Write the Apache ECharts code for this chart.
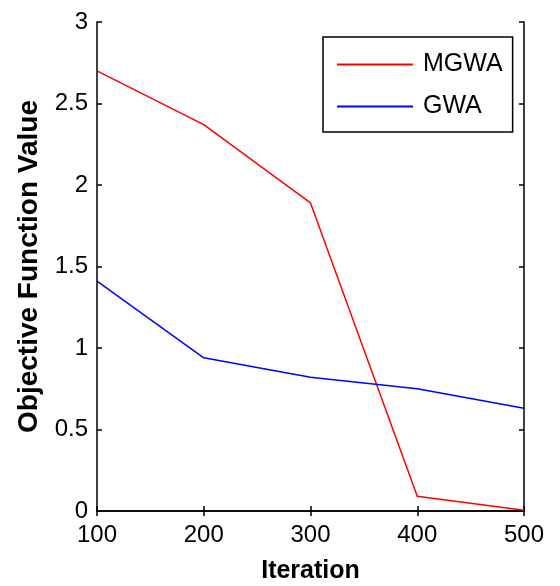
<!DOCTYPE html>
<html><head><meta charset="utf-8">
<script src="https://cdn.jsdelivr.net/npm/echarts@6/dist/echarts.min.js"></script>
<style>html,body{margin:0;padding:0;background:#fff}#c{width:560px;height:586px}</style>
</head><body><div id="c"></div>
<script>
const iterations = [100, 200, 300, 400, 500];
const mgwa = [2.70, 2.37, 1.89, 0.09, 0.005];
const gwa = [1.41, 0.94, 0.82, 0.75, 0.63];
const yTicks = [0, 0.5, 1, 1.5, 2, 2.5, 3];

const FONT = '"Liberation Sans", Arial, sans-serif';
const chart = echarts.init(document.getElementById('c'));
const axisLine = {show: true, lineStyle: {color: '#000', width: 1.5}};
const tick = {show: true, inside: true, length: 5, lineStyle: {color: '#000', width: 1.5}};
chart.setOption({
  animation: false,
  grid: {left: 97, top: 22, width: 427, height: 489, containLabel: false, outerBoundsMode: 'none'},
  legend: {
    orient: 'vertical', left: 323, top: 37,
    borderColor: '#000', borderWidth: 1.5,
    padding: [15, 10, 13, 14],
    itemWidth: 76, itemHeight: 2, itemGap: 17,
    icon: 'rect',
    textStyle: {fontFamily: FONT, fontSize: 25, color: '#000', padding: [0, 0, 0, 5], lineHeight: 25},
    data: ['MGWA', 'GWA']
  },
  xAxis: [{
    type: 'value', min: 100, max: 500, interval: 100,
    name: 'Iteration', nameLocation: 'middle', nameGap: 48,
    nameTextStyle: {fontFamily: FONT, fontWeight: 'bold', fontSize: 25, color: '#000'},
    axisLine: axisLine, axisTick: tick, splitLine: {show: false},
    axisLabel: {fontFamily: FONT, fontSize: 24, color: '#000', margin: 12}
  }, {
    type: 'value', min: 100, max: 500, interval: 100, position: 'top',
    axisLine: axisLine, axisTick: tick, splitLine: {show: false}, axisLabel: {show: false}
  }],
  yAxis: [{
    type: 'value', min: 0, max: 3, interval: 0.5,
    name: 'Objective Function Value', nameLocation: 'middle', nameGap: 53,
    nameTextStyle: {fontFamily: FONT, fontWeight: 'bold', fontSize: 28, color: '#000'},
    axisLine: axisLine, axisTick: tick, splitLine: {show: false},
    axisLabel: {fontFamily: FONT, fontSize: 24, color: '#000', margin: 9,
      formatter: v => yTicks.includes(v) ? String(v) : ''}
  }, {
    type: 'value', min: 0, max: 3, interval: 0.5, position: 'right',
    axisLine: axisLine, axisTick: tick, splitLine: {show: false}, axisLabel: {show: false}
  }],
  series: [
    {name: 'MGWA', type: 'line', symbol: 'none', data: iterations.map((x, i) => [x, mgwa[i]]),
     lineStyle: {color: '#ff0000', width: 1.5}, itemStyle: {color: '#ff0000'}},
    {name: 'GWA', type: 'line', symbol: 'none', data: iterations.map((x, i) => [x, gwa[i]]),
     lineStyle: {color: '#0000ff', width: 1.5}, itemStyle: {color: '#0000ff'}}
  ]
});
</script></body></html>
